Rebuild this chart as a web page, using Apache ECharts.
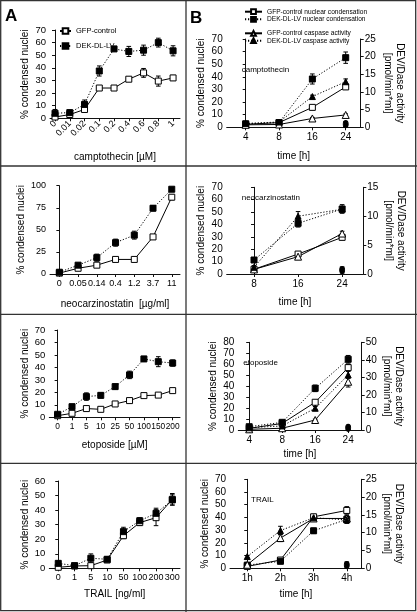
<!DOCTYPE html>
<html><head><meta charset="utf-8">
<script src="https://cdn.jsdelivr.net/npm/echarts/dist/echarts.min.js"></script>
<style>html,body{margin:0;padding:0;background:#fff}#c{width:417px;height:612px}</style>
</head><body><div id="c"></div>
<script>
// ---------- DATA ----------
const campCats = ['0','0.01','0.02','0.1','0.2','0.4','0.6','0.8','1'];
const campGFP = [1, 3, 7, 24, 24, 31, 36, 29.5, 32];
const campGFPerr = [1.5, 1, 1, 1.5, 1, 1.5, 3.5, 4, 2];
const campDEK = [4, 4.5, 11, 37.5, 55, 53, 54, 60, 53.5];
const campDEKerr = [3, 2, 3.5, 4, 1, 4, 4, 3.5, 4];

const neoCats = ['0','0.05','0.14','0.4','1.2','3.7','11'];
const neoGFP = [1, 6.5, 10, 16.5, 16.5, 42, 87];
const neoGFPerr = [1, 1, 1, 1, 1.5, 1.5, 3];
const neoDEK = [2, 10, 18.5, 35.5, 44, 74.5, 96];
const neoDEKerr = [1.5, 2, 4, 4, 4.5, 3, 1.5];

const etoCats = ['0','1','5','10','25','50','100','150','200'];
const etoGFP = [1.3, 3.2, 7, 6.4, 10.7, 13.4, 17.4, 17.8, 21.4];
const etoGFPerr = [0.8, 0.8, 1, 1, 1, 1.3, 1.3, 1.3, 1.3];
const etoDEK = [2.4, 8.5, 16.6, 17.6, 24.6, 34, 46.8, 44.6, 43.5];
const etoDEKerr = [1.5, 2, 3, 2, 2, 3, 2, 4, 2.5];

const trailCats = ['0','1','5','10','50','100','200','300'];
const trailGFP = [0.7, 1.6, 1.8, 5.7, 22.4, 31.4, 34.8, 47.4];
const trailGFPerr = [1, 1, 1, 1, 2, 2, 5.5, 4];
const trailDEK = [3.4, 1.8, 6.9, 6.2, 25.2, 32.7, 37.8, 47];
const trailDEKerr = [1.5, 1, 3, 1.5, 3, 2, 3.5, 3.5];

const campTimeCats = ['4','8','16','24'];
const campTimeGFPnuc = [2.4, 3.7, 15.8, 32];
const campTimeGFPnucErr = [1, 1, 1.5, 2];
const campTimeDEKnuc = [2.8, 3.7, 38.3, 55.2];
const campTimeDEKnucErr = [1, 1, 4, 4.5];
const campTimeGFPcasp = [0.7, 0.8, 2.5, 3.5];
const campTimeGFPcaspErr = [0.2, 0.2, 0.3, 0.3];
const campTimeDEKcasp = [1.1, 1.5, 8.7, 12.9];
const campTimeDEKcaspErr = [0.2, 0.2, 0.4, 0.8];
const campTimeCtrl = [null, null, null, 2.5];
const campTimeCtrlErr = [0, 0, 0, 2];

const neoTimeCats = ['8','16','24'];
const neoTimeGFPnuc = [3.8, 16.1, 29.6];
const neoTimeGFPnucErr = [1, 1, 2];
const neoTimeDEKnuc = [11.3, 40.9, 52.5];
const neoTimeDEKnucErr = [0.5, 3, 3.5];
const neoTimeGFPcasp = [0.8, 3.0, 7.0];
const neoTimeGFPcaspErr = [0.3, 0.3, 0.4];
const neoTimeDEKcasp = [1.16, 10, 11.2];
const neoTimeDEKcaspErr = [0.3, 0.8, 0.5];
const neoTimeCtrl = [null, null, 3.2];
const neoTimeCtrlErr = [0, 0, 2.5];

const etoTimeCats = ['4','8','16','24'];
const etoTimeGFPnuc = [1.5, 6, 25.3, 56.9];
const etoTimeGFPnucErr = [1, 1, 1.5, 3];
const etoTimeDEKnuc = [3, 7, 38, 64.5];
const etoTimeDEKnucErr = [1, 1, 3, 3.5];
const etoTimeGFPcasp = [0.4, 1, 5.7, 27.5];
const etoTimeGFPcaspErr = [0.3, 0.3, 0.5, 3];
const etoTimeDEKcasp = [1.3, 2.3, 12.4, 31.4];
const etoTimeDEKcaspErr = [0.3, 0.3, 1, 2];
const etoTimeCtrl = [null, null, null, 2];
const etoTimeCtrlErr = [0, 0, 0, 1.5];

const trailTimeCats = ['1h','2h','3h','4h'];
const trailTimeGFPnuc = [1.5, 6.5, 40.5, 45.5];
const trailTimeGFPnucErr = [1, 1, 2, 3];
const trailTimeDEKnuc = [2.5, 5.5, 29.5, 38.5];
const trailTimeDEKnucErr = [1, 1, 2, 2];
const trailTimeGFPcasp = [1, 8.5, 14, 14];
const trailTimeGFPcaspErr = [0.5, 1, 0.8, 0.8];
const trailTimeDEKcasp = [3.3, 10.6, 14.2, 13.6];
const trailTimeDEKcaspErr = [0.3, 1.2, 0.8, 1];
const trailTimeCtrl = [null, null, null, 2.5];
const trailTimeCtrlErr = [0, 0, 0, 2.5];

// ---------- STYLE / LAYOUT ----------
const FONT = '"Liberation Sans",Arial,sans-serif';
const INK = '#111';

const grids = [
  {left:50, top:30, width:130, height:88.3},        // A1
  {left:226.7, top:39, width:134, height:88.3},     // B1
  {left:50, top:185.7, width:130, height:88.3},     // A2
  {left:226.7, top:187.3, width:136.6, height:86.7},// B2
  {left:49.3, top:330, width:130.7, height:87.3},   // A3
  {left:238.3, top:342.3, width:123.4, height:87.7},// B3
  {left:49.3, top:481, width:130.7, height:87.3},   // A4
  {left:230, top:479.3, width:131.7, height:89}     // B4
];

function xAx(gi, cats, min, max, name, gap, fs, extraLabel) {
  const idx = cats.map((_, i) => i);
  return {
    type:'value', gridIndex:gi, min:min, max:max,
    name:name, nameLocation:'middle', nameGap:gap,
    nameTextStyle:{fontSize:10, color:'#000', fontFamily:FONT},
    axisLine:{show:true, onZero:false, lineStyle:{color:INK, width:1}},
    axisTick:{show:true, length:3, customValues:idx, lineStyle:{color:INK}},
    axisLabel:Object.assign({customValues:idx, formatter:v => cats[Math.round(v)],
      fontSize:fs, color:'#000', margin:5, fontFamily:FONT,
      hideOverlap:false, showMinLabel:true, showMaxLabel:true}, extraLabel || {}),
    splitLine:{show:false}
  };
}
function yAx(gi, max, step, pos, name, gap, rot, fs) {
  return {
    type:'value', gridIndex:gi, min:0, max:max, interval:step, position:pos,
    name:name, nameLocation:'middle', nameGap:gap, nameRotate:rot,
    nameTextStyle:{fontSize:10, color:'#000', fontFamily:FONT, lineHeight:12},
    axisLine:{show:true, lineStyle:{color:INK, width:1}},
    axisTick:{show:true, length:3, lineStyle:{color:INK}},
    axisLabel:{fontSize:fs, color:'#000', margin:4, fontFamily:FONT},
    splitLine:{show:false}
  };
}
const YN = '% condensed nuclei';
const RN = 'DEV/Dase activity\n[pmol/min*ml]';

const xAxis = [
  xAx(0, campCats, -0.34, 8.47, 'camptothecin [µM]', 34, 9, {rotate:45, margin:4}),
  xAx(1, campTimeCats, -0.57, 3.45, 'time [h]', 24, 10),
  xAx(2, neoCats, -0.5, 6.44, 'neocarzinostatin  [µg/ml]', 25, 9),
  xAx(3, neoTimeCats, -0.62, 2.48, 'time [h]', 23, 10),
  xAx(4, etoCats, -0.58, 8.51, 'etoposide [µM]', 23, 8.4),
  xAx(5, etoTimeCats, -0.33, 3.41, 'time [h]', 19, 10),
  xAx(6, trailCats, -0.55, 7.47, 'TRAIL [ng/ml]', 21, 9),
  xAx(7, trailTimeCats, -0.52, 3.45, 'time [h]', 21, 10)
];
const yAxis = [
  yAx(0, 70, 10, 'left', YN, 18, 90, 9.5),   // 0 A1
  yAx(1, 70, 10, 'left', YN, 16, 90, 10),    // 1 B1 left
  yAx(1, 25, 5, 'right', RN, 21, -90, 10),   // 2 B1 right
  yAx(2, 100, 25, 'left', YN, 21, 90, 9),    // 3 A2
  yAx(3, 70, 10, 'left', YN, 13, 90, 10),    // 4 B2 left
  yAx(3, 15, 5, 'right', RN, 19, -90, 10),   // 5 B2 right
  yAx(4, 70, 10, 'left', YN, 16, 90, 9.5),   // 6 A3
  yAx(5, 80, 10, 'left', YN, 14, 90, 10),    // 7 B3 left
  yAx(5, 50, 10, 'right', RN, 18, -90, 10),  // 8 B3 right
  yAx(6, 60, 10, 'left', YN, 15, 90, 9.5),   // 9 A4
  yAx(7, 70, 10, 'left', YN, 16, 90, 10),    // 10 B4 left
  yAx(7, 25, 5, 'right', RN, 18, -90, 10)    // 11 B4 right
];

function errItem(params, api) {
  const x = api.value(0), v = api.value(1), e = api.value(2);
  if (v == null || isNaN(v) || !e) return null;
  const lo = Math.max(0, v - e);
  const t = api.coord([x, v + e]), b = api.coord([x, lo]);
  const w = 2.3, st = {stroke:'#000', lineWidth:1};
  return {type:'group', children:[
    {type:'line', shape:{x1:t[0], y1:t[1], x2:b[0], y2:b[1]}, style:st},
    {type:'line', shape:{x1:t[0]-w, y1:t[1], x2:t[0]+w, y2:t[1]}, style:st},
    {type:'line', shape:{x1:b[0]-w, y1:b[1], x2:b[0]+w, y2:b[1]}, style:st}
  ]};
}

const KIND = {
  gfpNuc: {symbol:'rect', size:6, fill:'#fff', dash:'solid'},
  dekNuc: {symbol:'rect', size:6, fill:'#000', dash:[1.2, 1.8]},
  gfpCasp: {symbol:'triangle', size:7, fill:'#fff', dash:'solid'},
  dekCasp: {symbol:'triangle', size:6, fill:'#000', dash:[1.2, 1.8]},
  ctrl: {symbol:'circle', size:[5, 7], fill:'#000', dash:'solid'}
};

const series = [];
function add(name, xi, yi, vals, errs, k, noLine) {
  const K = KIND[k];
  series.push({
    type:'line', name:name, xAxisIndex:xi, yAxisIndex:yi,
    data: vals.map((v, i) => v == null ? [i, null] : [i, v]),
    symbol:K.symbol, symbolSize:K.size, showAllSymbol:true,
    itemStyle:{color:K.fill, borderColor:'#000', borderWidth:1},
    lineStyle:{color:'#000', width: noLine ? 0 : 1, type:K.dash, opacity: noLine ? 0 : 1},
    z:3, animation:false, connectNulls:false
  });
  series.push({
    type:'custom', xAxisIndex:xi, yAxisIndex:yi, silent:true, z:2,
    data: vals.map((v, i) => [i, v == null ? NaN : v, errs[i]]),
    renderItem: errItem, animation:false
  });
}
const G1 = 'GFP-control', D1 = 'DEK-DL-LV';
const GN = 'GFP-control nuclear condensation', DN = 'DEK-DL-LV nuclear condensation';
const GC = 'GFP-control caspase activity', DC = 'DEK-DL-LV caspase activity';

add(G1, 0, 0, campGFP, campGFPerr, 'gfpNuc');
add(D1, 0, 0, campDEK, campDEKerr, 'dekNuc');
add(G1, 2, 3, neoGFP, neoGFPerr, 'gfpNuc');
add(D1, 2, 3, neoDEK, neoDEKerr, 'dekNuc');
add(G1, 4, 6, etoGFP, etoGFPerr, 'gfpNuc');
add(D1, 4, 6, etoDEK, etoDEKerr, 'dekNuc');
add(G1, 6, 9, trailGFP, trailGFPerr, 'gfpNuc');
add(D1, 6, 9, trailDEK, trailDEKerr, 'dekNuc');

add(GN, 1, 1, campTimeGFPnuc, campTimeGFPnucErr, 'gfpNuc');
add(DN, 1, 1, campTimeDEKnuc, campTimeDEKnucErr, 'dekNuc');
add(GC, 1, 2, campTimeGFPcasp, campTimeGFPcaspErr, 'gfpCasp');
add(DC, 1, 2, campTimeDEKcasp, campTimeDEKcaspErr, 'dekCasp');
add('control', 1, 1, campTimeCtrl, campTimeCtrlErr, 'ctrl', true);

add(GN, 3, 4, neoTimeGFPnuc, neoTimeGFPnucErr, 'gfpNuc');
add(DN, 3, 4, neoTimeDEKnuc, neoTimeDEKnucErr, 'dekNuc');
add(GC, 3, 5, neoTimeGFPcasp, neoTimeGFPcaspErr, 'gfpCasp');
add(DC, 3, 5, neoTimeDEKcasp, neoTimeDEKcaspErr, 'dekCasp');
add('control', 3, 4, neoTimeCtrl, neoTimeCtrlErr, 'ctrl', true);

add(GN, 5, 7, etoTimeGFPnuc, etoTimeGFPnucErr, 'gfpNuc');
add(DN, 5, 7, etoTimeDEKnuc, etoTimeDEKnucErr, 'dekNuc');
add(GC, 5, 8, etoTimeGFPcasp, etoTimeGFPcaspErr, 'gfpCasp');
add(DC, 5, 8, etoTimeDEKcasp, etoTimeDEKcaspErr, 'dekCasp');
add('control', 5, 7, etoTimeCtrl, etoTimeCtrlErr, 'ctrl', true);

add(GN, 7, 10, trailTimeGFPnuc, trailTimeGFPnucErr, 'gfpNuc');
add(DN, 7, 10, trailTimeDEKnuc, trailTimeDEKnucErr, 'dekNuc');
add(GC, 7, 11, trailTimeGFPcasp, trailTimeGFPcaspErr, 'gfpCasp');
add(DC, 7, 11, trailTimeDEKcasp, trailTimeDEKcaspErr, 'dekCasp');
add('control', 7, 10, trailTimeCtrl, trailTimeCtrlErr, 'ctrl', true);

const legStyle = {fontFamily:FONT, color:'#000'};
const legend = [
  {data:[G1, D1], orient:'vertical', left:59, top:27, padding:0, itemWidth:11, itemHeight:7, itemGap:7,
   textStyle:Object.assign({fontSize:7.5, lineHeight:8}, legStyle), selectedMode:false},
  {data:[GN, DN], orient:'vertical', left:244, top:8.2, padding:0, itemWidth:17, itemHeight:6, itemGap:0.6,
   textStyle:Object.assign({fontSize:6.6, lineHeight:7}, legStyle), selectedMode:false},
  {data:[GC, DC], orient:'vertical', left:244, top:29.8, padding:0, itemWidth:17, itemHeight:6, itemGap:0.4,
   textStyle:Object.assign({fontSize:6.6, lineHeight:7}, legStyle), selectedMode:false}
];

const LC = '#333';
function hline(y){ return {type:'line', silent:true, shape:{x1:0, y1:y, x2:417, y2:y}, style:{stroke:LC, lineWidth:1.3}}; }
function label(x, y, txt, size, weight){
  return {type:'text', silent:true, x:x, y:y, style:{text:txt, fontSize:size, fontWeight:weight||'normal',
    fontFamily:FONT, fill:'#000', textVerticalAlign:'middle'}};
}
const graphic = [
  {type:'rect', silent:true, shape:{x:0.7, y:0.7, width:415, height:610}, style:{fill:'none', stroke:LC, lineWidth:1.3}},
  {type:'line', silent:true, shape:{x1:186, y1:0, x2:186, y2:612}, style:{stroke:LC, lineWidth:1.3}},
  hline(166), hline(314.3), hline(463.3),
  label(5, 16, 'A', 17, 'bold'),
  label(190, 18.5, 'B', 17, 'bold'),
  label(241.7, 70, 'camptothecin', 8),
  label(241.7, 197.3, 'neocarzinostatin', 8),
  label(243.3, 362.3, 'etoposide', 8),
  label(251, 500, 'TRAIL', 8)
];

const chart = echarts.init(document.getElementById('c'), null, {renderer:'canvas'});
chart.setOption({
  animation:false, backgroundColor:'#fff',
  grid:grids, xAxis:xAxis, yAxis:yAxis, legend:legend, series:series, graphic:graphic
});
</script></body></html>
